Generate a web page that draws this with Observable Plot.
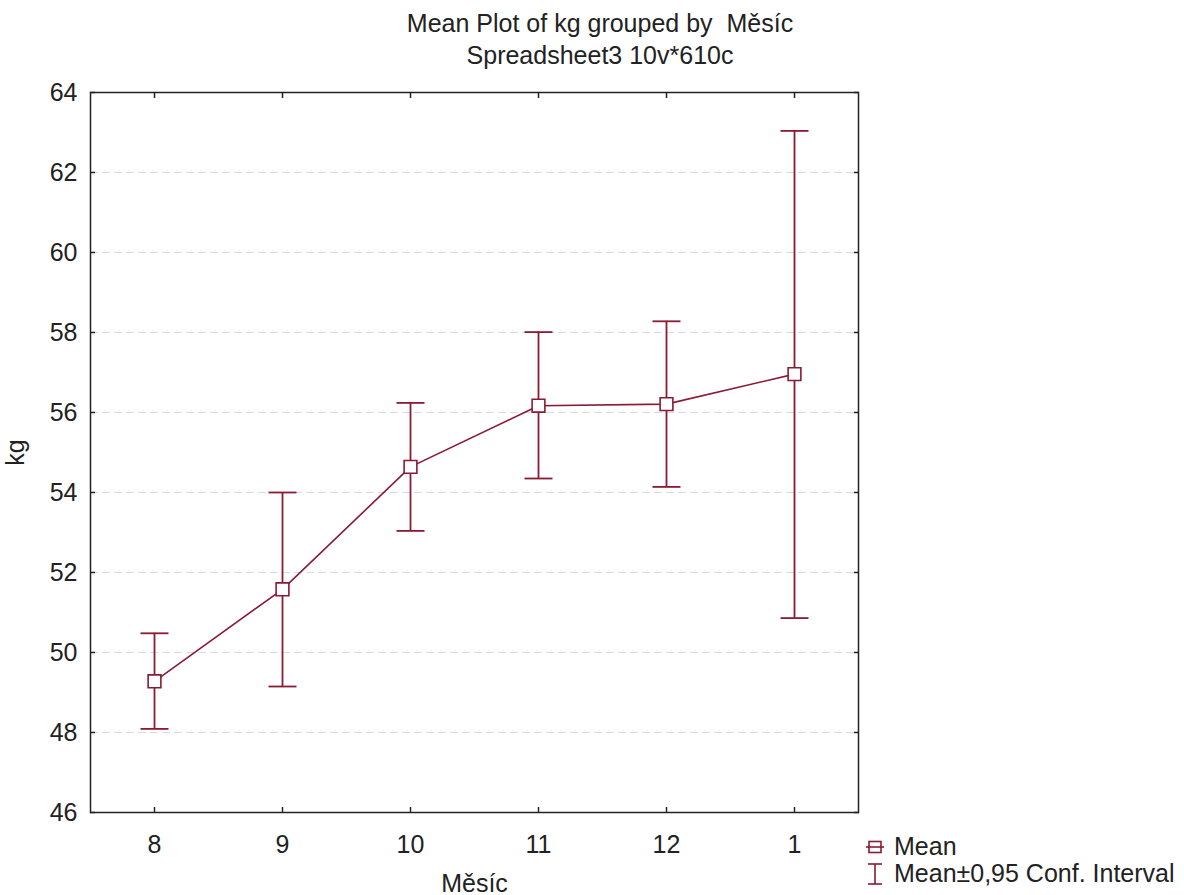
<!DOCTYPE html>
<html>
<head>
<meta charset="utf-8">
<script src="https://cdn.jsdelivr.net/npm/d3@7"></script>
<script src="https://cdn.jsdelivr.net/npm/@observablehq/plot@0.6"></script>
<style>
  html, body { margin: 0; padding: 0; background: #fff; }
  #wrap { position: relative; width: 1184px; height: 895px; font-family: "Liberation Sans", Arial, sans-serif; color: #222; }
  #title { position: absolute; left: 0; width: 1200px; top: 7px; text-align: center; font-size: 25px; line-height: 32px; }
  #legend { position: absolute; left: 866px; top: 833px; font-size: 25px; line-height: 27px; }
  #legend div { display: flex; align-items: center; }
  #legend svg { margin-right: 10px; }
  #chart { position: absolute; left: 0; top: 0; }
</style>
</head>
<body>
<div id="wrap">
  <div id="chart"></div>
  <div id="title">Mean Plot of kg grouped by&nbsp; Měsíc<br>Spreadsheet3 10v*610c</div>
  <div id="legend"></div>
</div>
<script>
const months = ["8", "9", "10", "11", "12", "1"];
const means  = [49.28, 51.58, 54.64, 56.17, 56.21, 56.96];
const upper  = [50.48, 54.00, 56.24, 58.01, 58.28, 63.04];
const lower  = [48.09, 49.15, 53.04, 54.35, 54.14, 50.86];
const yTicks = [46, 48, 50, 52, 54, 56, 58, 60, 62, 64];

const color = "#8b1a34";
const data = months.map((m, i) => ({month: m, mean: means[i], hi: upper[i], lo: lower[i]}));

const capSymbol = {draw(ctx) { ctx.moveTo(-14, 0); ctx.lineTo(14, 0); }};

const plot = Plot.plot({
  width: 1184,
  height: 895,
  marginLeft: 90,
  marginRight: 326,
  marginTop: 92,
  marginBottom: 83,
  style: {fontFamily: "Liberation Sans, Arial, sans-serif", fontSize: "25px", color: "#222", background: "white"},
  x: {type: "point", domain: months, padding: 0.5},
  y: {domain: [46, 64]},
  marks: [
    Plot.gridY(yTicks.slice(1, -1), {stroke: "#dcdcdc", strokeOpacity: 1, strokeDasharray: "8,4"}),
    Plot.axisX({anchor: "bottom", tickSize: -5, tickPadding: 28, fontSize: 25, label: "Měsíc", labelAnchor: "center", labelOffset: 79, labelArrow: "none", strokeWidth: 1.5}),
    Plot.axisX({anchor: "top", tickSize: -5, tickFormat: () => "", label: null, strokeWidth: 1.5}),
    Plot.axisY(yTicks, {anchor: "left", tickSize: -5, tickPadding: 18, fontSize: 25, label: "kg", labelAnchor: "center", labelOffset: 84, labelArrow: "none", strokeWidth: 1.5}),
    Plot.axisY(yTicks, {anchor: "right", tickSize: -5, tickFormat: () => "", label: null, strokeWidth: 1.5}),
    Plot.frame({stroke: "#222", strokeWidth: 1.5}),
    Plot.ruleX(data, {x: "month", y1: "lo", y2: "hi", stroke: color, strokeWidth: 1.8}),
    Plot.dot(data, {x: "month", y: "hi", symbol: capSymbol, stroke: color, strokeWidth: 1.8}),
    Plot.dot(data, {x: "month", y: "lo", symbol: capSymbol, stroke: color, strokeWidth: 1.8}),
    Plot.line(data, {x: "month", y: "mean", stroke: color, strokeWidth: 1.6}),
    Plot.dot(data, {x: "month", y: "mean", symbol: "square", r: 7.2, fill: "white", stroke: color, strokeWidth: 1.6})
  ]
});
document.getElementById("chart").appendChild(plot);

const legend = document.getElementById("legend");
legend.innerHTML = `
  <div><svg width="18" height="16"><line x1="0" y1="8" x2="18" y2="8" stroke="${color}" stroke-width="1.6"/><rect x="3" y="2.5" width="12" height="11" fill="white" stroke="${color}" stroke-width="1.6"/><line x1="3" y1="8" x2="15" y2="8" stroke="${color}" stroke-width="1.6"/></svg>Mean</div>
  <div><svg width="18" height="24"><line x1="2" y1="2" x2="16" y2="2" stroke="${color}" stroke-width="1.6"/><line x1="9" y1="2" x2="9" y2="22" stroke="${color}" stroke-width="1.6"/><line x1="2" y1="22" x2="16" y2="22" stroke="${color}" stroke-width="1.6"/></svg>Mean±0,95 Conf. Interval</div>
`;
</script>
</body>
</html>
